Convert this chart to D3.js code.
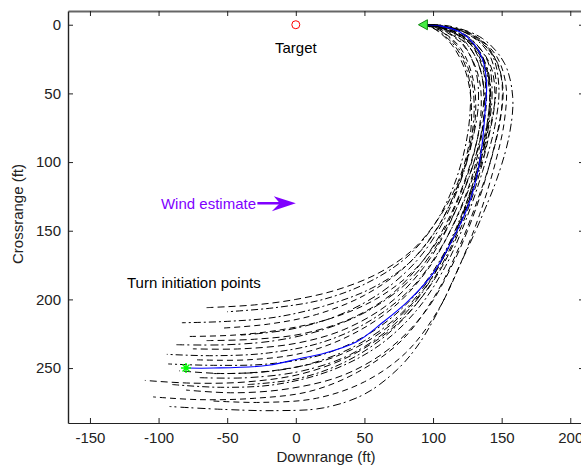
<!DOCTYPE html>
<html>
<head>
<meta charset="utf-8">
<script src="https://cdn.jsdelivr.net/npm/d3@7"></script>
<style>
  body { margin: 0; background: #fff; }
  svg { display: block; font-family: "Liberation Sans", Arial, sans-serif; }
</style>
</head>
<body>
<svg id="chart" width="581" height="465"></svg>
<script>
// Axis ticks
const xTicks = [-150, -100, -50, 0, 50, 100, 150, 200];
const yTicks = [0, 50, 100, 150, 200, 250];

// Nominal guided path (downrange, crossrange) in ft
const nominalPath = [
  [-80, 250], [-60, 250], [-20, 248], [3, 243], [18, 240], [44, 231], [63, 217],
  [82, 201], [100, 181], [117, 151], [127, 128], [133, 105], [136, 85], [138, 62],
  [139, 42], [136, 25], [129, 13], [119, 5], [106, 1], [93, 0]
];

// Monte Carlo trajectories from dispersed turn initiation points
const trajectories = [
  [[-65,206],[-30,204],[0,200],[30,193],[60,181],[85,164],[104,141],[118,115],[126,88],[128,60],[124,35],[114,15],[101,3],[93,0]],
  [[-83,217],[-50,216],[-15,213],[20,205],[55,192],[82,174],[102,150],[116,122],[126,92],[130,62],[127,36],[117,15],[103,3],[93,0]],
  [[-80,227],[-45,226],[-10,222],[25,214],[58,200],[86,179],[106,153],[120,123],[130,93],[135,63],[133,37],[122,15],[105,3],[93,0]],
  [[-87,233],[-50,233],[-15,230],[20,222],[55,207],[84,185],[105,157],[120,127],[131,96],[137,66],[136,39],[127,17],[109,4],[94,0]],
  [[-75,236],[-40,236],[0,232],[35,222],[68,203],[93,177],[110,149],[123,119],[133,89],[138,61],[137,35],[127,14],[108,3],[93,0]],
  [[-94,240],[-60,241],[-20,239],[20,231],[55,215],[85,191],[106,162],[122,130],[133,98],[140,68],[141,41],[132,18],[113,4],[95,0]],
  [[-72,244],[-35,244],[5,239],[40,226],[72,205],[97,177],[114,147],[127,115],[135,83],[139,54],[136,29],[124,10],[107,2],[93,0]],
  [[-60,254],[-25,253],[10,247],[45,233],[77,210],[100,181],[117,149],[130,115],[139,82],[143,52],[140,27],[126,9],[107,1],[93,0]],
  [[-110,259],[-75,261],[-35,260],[5,254],[42,240],[75,217],[100,187],[118,153],[131,118],[140,84],[145,55],[142,30],[129,12],[110,2],[94,0]],
  [[-90,262],[-55,264],[-15,262],[25,252],[60,234],[88,208],[109,176],[124,142],[136,107],[145,74],[148,46],[143,22],[128,7],[108,1],[93,0]],
  [[-104,271],[-70,273],[-30,272],[10,267],[45,253],[77,230],[101,198],[119,162],[133,126],[144,92],[150,61],[149,35],[138,14],[116,3],[95,0]],
  [[-92,278],[-55,280],[-15,281],[20,279],[50,269],[74,251],[90,232],[105,206],[120,174],[135,141],[148,108],[156,78],[158,52],[152,28],[136,10],[112,1],[94,0]],
  [[-65,230],[-30,229],[5,225],[40,214],[70,196],[94,170],[111,142],[124,111],[133,80],[137,52],[133,28],[121,10],[105,2],[93,0]],
  [[-93,247],[-60,248],[-20,247],[20,240],[55,224],[84,200],[106,170],[121,138],[132,106],[139,75],[141,47],[134,22],[116,6],[96,0]],
  [[-55,221],[-20,218],[15,211],[50,197],[80,176],[101,151],[116,123],[126,94],[131,65],[129,39],[120,17],[105,4],[93,0]],
  [[-70,257],[-35,257],[5,252],[40,240],[72,218],[97,188],[115,154],[128,119],[137,86],[142,56],[139,30],[127,12],[109,2],[94,0]],
  [[-80,266],[-45,268],[-5,265],[35,255],[68,236],[95,208],[114,175],[129,140],[140,106],[148,73],[151,47],[145,24],[128,8],[107,1],[93,0]],
  [[-50,209],[-15,206],[20,200],[52,188],[80,170],[100,147],[114,120],[123,91],[127,63],[126,38],[117,17],[103,4],[93,0]],
  [[-60,274],[-25,275],[15,272],[50,260],[80,239],[103,209],[120,174],[134,138],[145,102],[152,70],[153,43],[145,21],[127,6],[106,1],[93,0]],
  [[-40,226],[-5,222],[30,212],[62,195],[88,172],[106,146],[119,117],[128,87],[133,58],[131,33],[121,13],[105,3],[93,0]],
  [[-85,252],[-50,254],[-10,251],[28,242],[62,224],[90,197],[110,165],[125,131],[135,98],[141,66],[141,40],[133,18],[115,5],[94,0]],
  [[-35,262],[0,258],[35,246],[66,226],[92,198],[111,166],[125,132],[136,98],[143,68],[146,42],[140,20],[124,6],[105,1],[93,0]]
];

// Reference points and annotations
const targetPoint = [0, 0];
const releasePoint = [93, 0];
const turnStart = [-80, 250];
const windArrow = [[-28, 130], [0, 130]];
const annotations = [
  { text: "Target", at: [0, 17], anchor: "middle", color: "#000" },
  { text: "Turn initiation points", at: [-123, 188], anchor: "start", color: "#000" },
  { text: "Wind estimate", at: [-29, 130], anchor: "end", color: "#8000ff" }
];

const W = 581, H = 465;
const box = { left: 68, right: 584, top: 11, bottom: 423 };
const x = d3.scaleLinear().domain([-166, 210]).range([box.left, box.right]);
const y = d3.scaleLinear().domain([-10, 290]).range([box.top, box.bottom]);

const svg = d3.select("#chart");

svg.append("defs").append("clipPath").attr("id", "plotclip")
  .append("rect").attr("x", box.left).attr("y", box.top)
  .attr("width", box.right - box.left).attr("height", box.bottom - box.top);

const plot = svg.append("g").attr("clip-path", "url(#plotclip)");

const line = d3.line().x(d => x(d[0])).y(d => y(d[1])).curve(d3.curveCatmullRom.alpha(0.5));

const dashStyles = ["7,4", "7,3,2,3", "6,4", "8,3,2,4"];
plot.selectAll("path.traj").data(trajectories).join("path")
  .attr("class", "traj")
  .attr("d", line)
  .attr("fill", "none")
  .attr("stroke", "#000")
  .attr("stroke-width", 1)
  .attr("stroke-dasharray", (d, i) => dashStyles[i % dashStyles.length])
  .attr("stroke-dashoffset", (d, i) => (i * 3) % 9);

plot.append("path").datum(nominalPath)
  .attr("d", line)
  .attr("fill", "none")
  .attr("stroke", "#0000ff")
  .attr("stroke-width", 1.1);

// Axes (ticks drawn inward, plain hyphen for negatives)
const fontSize = 15;
const fmt = d => String(d);
const gx = svg.append("g").attr("transform", `translate(0,${box.bottom})`)
  .call(d3.axisBottom(x).tickValues(xTicks).tickFormat(fmt).tickSizeInner(-5).tickSizeOuter(0).tickPadding(9));
const gxTop = svg.append("g").attr("transform", `translate(0,${box.top})`)
  .call(d3.axisTop(x).tickValues(xTicks).tickSizeInner(-5).tickSizeOuter(0).tickFormat(""));
const gy = svg.append("g").attr("transform", `translate(${box.left},0)`)
  .call(d3.axisLeft(y).tickValues(yTicks).tickFormat(fmt).tickSizeInner(-5).tickSizeOuter(0).tickPadding(7));
const gyRight = svg.append("g").attr("transform", `translate(${box.right},0)`)
  .call(d3.axisRight(y).tickValues(yTicks).tickSizeInner(-5).tickSizeOuter(0).tickFormat(""));

[gx, gxTop, gy, gyRight].forEach(g => {
  g.selectAll("text").attr("font-size", fontSize).attr("fill", "#222")
    .attr("font-family", "'Liberation Sans', Arial, sans-serif");
  g.selectAll("line").attr("stroke", "#222");
  g.select(".domain").attr("stroke", "#222");
});
gxTop.select(".domain").attr("stroke", "#666").attr("stroke-width", 2);
gy.select(".domain").attr("stroke-width", 1.4);

svg.append("text").attr("x", (box.left + box.right) / 2).attr("y", 462)
  .attr("text-anchor", "middle").attr("font-size", fontSize).attr("fill", "#222")
  .text("Downrange (ft)");
svg.append("text").attr("transform", `translate(23,${(box.top + box.bottom) / 2 - 3}) rotate(-90)`)
  .attr("text-anchor", "middle").attr("font-size", fontSize).attr("fill", "#222")
  .text("Crossrange (ft)");

// Annotations
svg.selectAll("text.note").data(annotations).join("text")
  .attr("class", "note")
  .attr("x", d => x(d.at[0]))
  .attr("y", d => y(d.at[1]))
  .attr("dy", "0.35em")
  .attr("text-anchor", d => d.anchor)
  .attr("font-size", fontSize)
  .attr("fill", d => d.color)
  .text(d => d.text);

// Wind arrow
const ax0 = x(windArrow[0][0]), ax1 = x(windArrow[1][0]), ay = y(windArrow[0][1]);
svg.append("line").attr("x1", ax0).attr("x2", ax1 - 14).attr("y1", ay).attr("y2", ay)
  .attr("stroke", "#8000ff").attr("stroke-width", 2.5);
svg.append("path")
  .attr("d", `M${ax1},${ay} L${ax1 - 22},${ay - 7} L${ax1 - 16},${ay} L${ax1 - 24},${ay + 8} Z`)
  .attr("fill", "#8000ff");

// Target marker
svg.append("circle").attr("cx", x(targetPoint[0])).attr("cy", y(targetPoint[1])).attr("r", 4)
  .attr("fill", "none").attr("stroke", "#ff0000").attr("stroke-width", 1);

// Turn start marker (star)
const sx = x(turnStart[0]), sy = y(turnStart[1]);
svg.append("path")
  .attr("d", `M${sx - 5},${sy} L${sx + 5},${sy} M${sx},${sy - 5} L${sx},${sy + 5} M${sx - 3.5},${sy - 3.5} L${sx + 3.5},${sy + 3.5} M${sx - 3.5},${sy + 3.5} L${sx + 3.5},${sy - 3.5}`)
  .attr("stroke", "#00ff00").attr("stroke-width", 1.4).attr("fill", "none");

// Release point marker (left-pointing triangle)
const rx = x(releasePoint[0]), ry = y(releasePoint[1]);
svg.append("line").attr("x1", rx).attr("x2", x(104)).attr("y1", ry).attr("y2", ry)
  .attr("stroke", "#000").attr("stroke-width", 1);
svg.append("path")
  .attr("d", `M${rx - 5},${ry} L${rx + 4},${ry - 5} L${rx + 4},${ry + 5} Z`)
  .attr("fill", "#44ee44").attr("stroke", "#118811").attr("stroke-width", 1);
</script>
</body>
</html>
